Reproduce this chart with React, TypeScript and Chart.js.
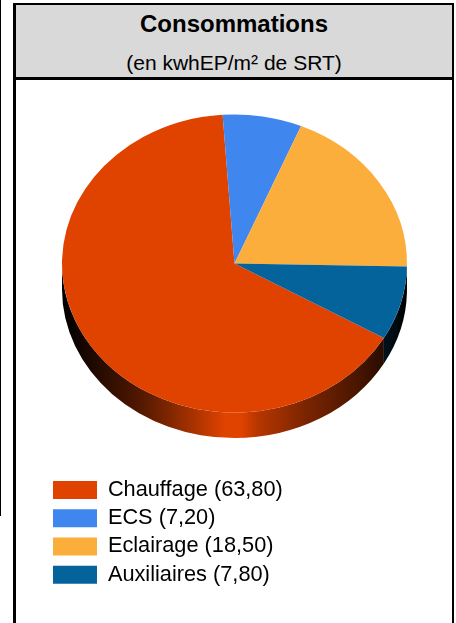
import React, { useEffect, useRef } from "react";
import { Chart, registerables } from "chart.js";

Chart.register(...registerables);

// Energy use per item, in kWhEP/m² of SRT
const categories = ["Chauffage", "ECS", "Eclairage", "Auxiliaires"];
const consumption = [63.8, 7.2, 18.5, 7.8];
const sliceColors = ["#E04200", "#3F86EE", "#FBAE3C", "#04639B"];
const title = "Consommations";
const subtitle = "(en kwhEP/m² de SRT)";

const PIE_CENTER = { x: 234.5, y: 263.5 };
const PIE_RADIUS = 172.5;
const SQUASH = 0.864;
const RIM_DEPTH = 25.5;

// Brightness of the edge from the left of the pie to its right.
const RIM_STOPS: [number, number][] = [
  [0, 0],
  [0.08, 0.12],
  [0.226, 0.36],
  [0.37, 0.72],
  [0.47, 1],
  [0.52, 1],
  [0.565, 0.82],
  [0.71, 0.54],
  [0.855, 0.33],
  [0.96, 0.12],
  [1, 0],
];

const formatValue = (v: number) => v.toFixed(2).replace(".", ",");

function shade(hex: string, f: number) {
  const n = parseInt(hex.slice(1), 16);
  const r = Math.round(((n >> 16) & 255) * f);
  const g = Math.round(((n >> 8) & 255) * f);
  const b = Math.round((n & 255) * f);
  return `rgb(${r},${g},${b})`;
}

// Tilts the pie into an ellipse and paints the cylindrical edge under it.
const tiltedPie = {
  id: "tiltedPie",
  beforeDatasetsDraw(chart: any) {
    const { ctx } = chart;
    const arcs = chart.getDatasetMeta(0).data;
    ctx.save();
    ctx.translate(PIE_CENTER.x, PIE_CENTER.y);
    ctx.scale(1, SQUASH);

    const left = -PIE_RADIUS;
    const span = PIE_RADIUS * 2;
    arcs.forEach((arc: any, i: number) => {
      const a0 = arc.startAngle;
      const a1 = arc.endAngle;
      // Only the part of a slice facing the viewer shows an edge.
      for (const k of [0, 2]) {
        const start = Math.max(a0, k * Math.PI);
        const end = Math.min(a1, (k + 1) * Math.PI);
        if (end <= start) continue;
        const drop = RIM_DEPTH / SQUASH;
        const c = sliceColors[i];
        const grad = ctx.createLinearGradient(left, 0, left + span, 0);
        RIM_STOPS.forEach(([pos, f]) => grad.addColorStop(pos, shade(c, f)));
        ctx.beginPath();
        ctx.arc(0, 0, PIE_RADIUS, start, end);
        ctx.arc(0, drop, PIE_RADIUS, end, start, true);
        ctx.closePath();
        ctx.fillStyle = grad;
        ctx.fill();
      }
    });

    const first = arcs[0];
    ctx.translate(-first.x, -first.y);
  },
  afterDatasetsDraw(chart: any) {
    chart.ctx.restore();
  },
};

export default function App() {
  const canvasRef = useRef<HTMLCanvasElement | null>(null);

  useEffect(() => {
    const chart = new Chart(canvasRef.current as HTMLCanvasElement, {
      type: "pie",
      data: {
        labels: categories,
        datasets: [
          {
            data: consumption,
            backgroundColor: sliceColors,
            borderWidth: 0,
            clip: false,
          } as any,
        ],
      },
      plugins: [tiltedPie],
      options: {
        animation: false,
        responsive: false,
        rotation: 120,
        radius: PIE_RADIUS,
        layout: { padding: { left: 46.5, bottom: 31 } },
        plugins: {
          tooltip: { enabled: false },
          title: { display: false },
          legend: {
            position: "chartArea" as any,
            align: "end",
            labels: {
              boxWidth: 44,
              boxHeight: 18,
              padding: 6.5,
              color: "#2b2b33",
              font: { family: "'Liberation Sans', Arial, sans-serif", size: 21.75 },
              generateLabels: () =>
                categories.map((name, i) => ({
                  text: `${name} (${formatValue(consumption[i])})`,
                  fillStyle: sliceColors[i],
                  strokeStyle: sliceColors[i],
                  lineWidth: 0,
                  hidden: false,
                  index: i,
                })),
            },
          },
        },
      },
    });
    return () => chart.destroy();
  }, []);

  const line = (l: number, t: number, w: number, h: number) => (
    <div style={{ position: "absolute", left: l, top: t, width: w, height: h, background: "#000" }} />
  );
  const caption = (text: string, top: number, size: number, weight: number) => (
    <div
      style={{
        position: "absolute",
        left: 16,
        width: 436,
        top,
        textAlign: "center",
        font: `${weight} ${size}px/24px 'Liberation Sans', Arial, sans-serif`,
        color: "#000",
      }}
    >
      {text}
    </div>
  );

  return (
    <div style={{ position: "absolute", left: 0, top: 0, width: 456, height: 623, overflow: "hidden", background: "#fff" }}>
      <canvas ref={canvasRef} width={456} height={623} style={{ position: "absolute", left: 0, top: 0 }} />
      <div style={{ position: "absolute", left: 16, top: 5, width: 436, height: 72, background: "#D9D9D9" }} />
      {caption(title, 12, 24, 700)}
      {caption(subtitle, 51, 21, 400)}
      {line(0, 0, 1, 516)}
      {line(13, 3, 3, 620)}
      {line(452, 3, 2, 620)}
      {line(13, 3, 441, 2)}
      {line(13, 77, 441, 3)}
    </div>
  );
}
